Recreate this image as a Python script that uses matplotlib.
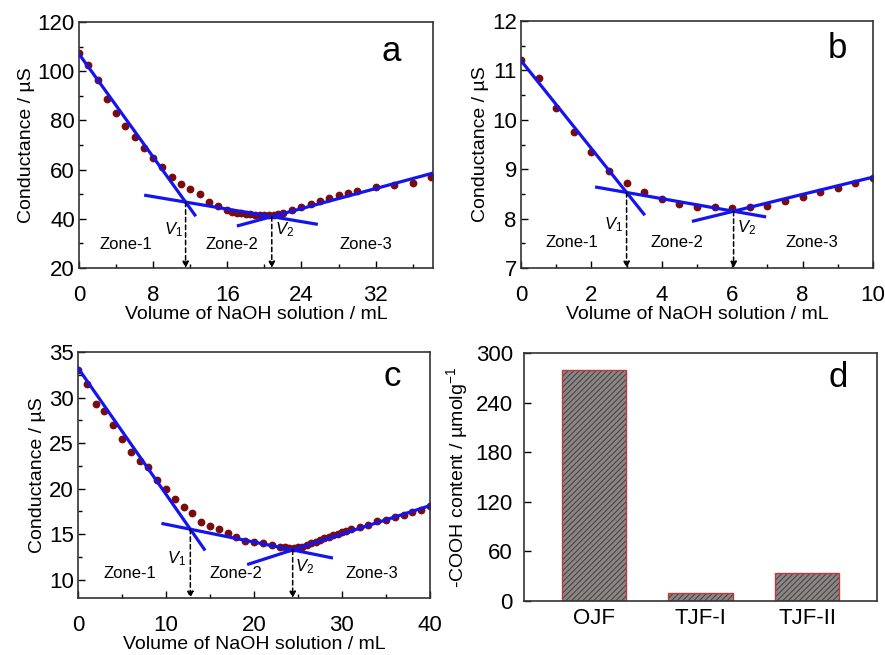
import numpy as np
import matplotlib
matplotlib.use("Agg")
import matplotlib.pyplot as plt

plt.rcParams['font.family'] = ['Liberation Sans', 'DejaVu Sans']
plt.rcParams['mathtext.fontset'] = 'custom'
plt.rcParams['mathtext.rm'] = 'Liberation Sans'
plt.rcParams['mathtext.it'] = 'Liberation Sans:italic'
plt.rcParams['hatch.linewidth'] = 0.8

# panel a data
xa = [0, 1, 2, 3, 4, 5, 6, 7, 8, 9, 10, 11, 12, 13, 14, 15, 16,
      16.5, 17, 17.5, 18, 18.5, 19, 19.5, 20, 20.5, 21, 21.5,
      22, 23, 24, 25, 26, 27, 28, 29, 30, 32, 34, 36, 38]
ya = [107.2, 102.4, 96.4, 88.9, 83.2, 77.7, 73.4, 68.6, 64.6, 61.0, 57.2, 54.2, 52.0, 50.1, 47.0, 45.4, 43.4,
      42.8, 42.5, 42.2, 42.0, 41.8, 41.6, 41.5, 41.4, 41.5, 41.6, 42.0,
      42.3, 43.6, 45.0, 46.1, 47.3, 48.4, 49.7, 50.4, 51.5, 52.8, 53.8, 54.7, 56.9]
va = [11.5, 20.8]
a_y0, a_v1y, a_v2y, a_end = 107.0, 46.8, 40.9, 58.6

# panel b data
xb = [0, 0.5, 1, 1.5, 2, 2.5, 3, 3.5, 4, 4.5, 5, 5.5, 6, 6.5, 7, 7.5, 8, 8.5, 9, 9.5, 10]
yb = [11.22, 10.84, 10.24, 9.75, 9.34, 8.97, 8.73, 8.54, 8.39, 8.30, 8.245, 8.24, 8.21, 8.245,
      8.26, 8.35, 8.43, 8.53, 8.62, 8.72, 8.82]
vb = [3.0, 6.04]
b_y0, b_v1y, b_v2y, b_end = 11.2, 8.53, 8.15, 8.84

# panel c data
xc = [0, 1, 2, 3, 4, 5, 6, 7, 8, 9, 10, 11, 12, 13, 14, 15, 16, 17, 18, 19, 20, 21, 22, 23,
      23.5, 24, 24.5, 25, 25.5, 26, 26.5, 27, 27.5, 28, 28.5, 29, 29.5, 30, 30.5, 31,
      32, 33, 34, 35, 36, 37, 38, 39, 40]
yc = [33.07, 31.5, 29.27, 28.54, 26.97, 25.5, 24.05, 23.07, 22.4, 20.95, 19.93, 18.87, 17.96, 17.3,
      16.39, 15.91, 15.55, 15.1, 14.67, 14.3, 14.2, 14.09, 13.83, 13.65,
      13.55, 13.5, 13.5, 13.55, 13.65, 13.8, 14.0, 14.2, 14.4, 14.6, 14.75, 14.9, 15.05, 15.2, 15.4, 15.6,
      15.8, 16.0, 16.4, 16.6, 16.9, 17.1, 17.4, 17.7, 18.1]
vc = [12.77, 24.4]
c_y0, c_v1y, c_v2y, c_end = 33.25, 15.55, 13.28, 18.14

# panel d data
samples = ['OJF', 'TJF-I', 'TJF-II']
cooh = [279, 10.1, 33.5]

fig = plt.figure(figsize=(8.85, 6.55), dpi=100)
axa = fig.add_axes([0.0893, 0.5908, 0.400, 0.3756])
axb = fig.add_axes([0.5887, 0.5908, 0.3977, 0.3770])
axc = fig.add_axes([0.0881, 0.0870, 0.3977, 0.3756])
axd = fig.add_axes([0.5920, 0.0824, 0.3990, 0.3786])

blue = '#1414f0'
dotc = '#7a0c0c'


def titration(ax, x, y, v, y0, v1y, v2y, yend, l2, l3, xlim, ylim):
    ax.plot(x, y, 'o', color=dotc, ms=4.6, zorder=2)
    s1 = (v1y - y0) / v[0]
    s2 = (v2y - v1y) / (v[1] - v[0])
    s3 = (yend - v2y) / (xlim[1] - v[1])
    x1 = np.array([0, l2[2]])
    ax.plot(x1, y0 + s1 * x1, color=blue, lw=2.3, zorder=3)
    x2 = np.array([l2[0], l2[1]])
    ax.plot(x2, v1y + s2 * (x2 - v[0]), color=blue, lw=2.3, zorder=3)
    x3 = np.array([l3, xlim[1]])
    ax.plot(x3, v2y + s3 * (x3 - v[1]), color=blue, lw=2.3, zorder=3)
    for vx, vy in zip(v, [v1y, v2y]):
        ax.annotate('', xy=(vx, ylim[0]), xytext=(vx, vy),
                    arrowprops=dict(arrowstyle='-|>', ls=(0, (3, 2)), color='black',
                                    lw=1.1, mutation_scale=9, shrinkA=0, shrinkB=0))
    ax.set_xlim(xlim)
    ax.set_ylim(ylim)
    ax.set_xlabel('Volume of NaOH solution / mL', fontsize=14, labelpad=0)
    ax.set_ylabel('Conductance / µS', fontsize=14, labelpad=2)


def style(ax):
    ax.tick_params(direction='in', labelsize=16, length=5, width=1)
    ax.tick_params(axis='x', pad=12)
    ax.tick_params(axis='y', pad=3)
    ax.tick_params(which='minor', direction='in', length=3, width=1)
    for s in ax.spines.values():
        s.set_color('#333333')
        s.set_linewidth(1.2)


# panel a
titration(axa, xa, ya, va, a_y0, a_v1y, a_v2y, a_end, (7.2, 25.6, 12.5), 17.2, (0, 38.2), (20, 120))
axa.set_xticks([0, 8, 16, 24, 32])
axa.set_xticks(np.arange(4, 38, 8), minor=True)
axa.set_yticks(np.arange(20, 121, 20))
axa.set_yticks(np.arange(30, 120, 20), minor=True)
axa.text(10.2, 35.5, r'$V_1$', fontsize=12, ha='center', va='center')
axa.text(22.2, 35.5, r'$V_2$', fontsize=12, ha='center', va='center')
for zx, zt in zip([5.1, 16.5, 31.0], ['Zone-1', 'Zone-2', 'Zone-3']):
    axa.text(zx, 29.5, zt, fontsize=12, ha='center', va='center')
axa.text(33.7, 108, 'a', fontsize=25, ha='center', va='center')
style(axa)

# panel b
titration(axb, xb, yb, vb, b_y0, b_v1y, b_v2y, b_end, (2.15, 6.92, 3.49), 4.9, (0, 10), (7, 12))
axb.set_xticks(np.arange(0, 11, 2))
axb.set_xticks(np.arange(1, 10, 2), minor=True)
axb.set_yticks(np.arange(7, 13, 1))
axb.set_yticks(np.arange(7.5, 12, 1), minor=True)
axb.text(2.63, 7.875, r'$V_1$', fontsize=12, ha='center', va='center')
axb.text(6.42, 7.81, r'$V_2$', fontsize=12, ha='center', va='center')
for zx, zt in zip([1.44, 4.43, 8.27], ['Zone-1', 'Zone-2', 'Zone-3']):
    axb.text(zx, 7.52, zt, fontsize=12, ha='center', va='center')
axb.text(8.98, 11.44, 'b', fontsize=25, ha='center', va='center')
style(axb)

# panel c
titration(axc, xc, yc, vc, c_y0, c_v1y, c_v2y, c_end, (9.66, 28.8, 14.35), 19.4, (0, 40), (8, 35))
axc.set_xticks(np.arange(0, 41, 10))
axc.set_xticks(np.arange(5, 40, 10), minor=True)
axc.set_yticks(np.arange(10, 36, 5))
axc.set_yticks(np.arange(12.5, 35, 5), minor=True)
axc.text(11.25, 12.37, r'$V_1$', fontsize=12, ha='center', va='center')
axc.text(25.7, 11.46, r'$V_2$', fontsize=12, ha='center', va='center')
for zx, zt in zip([5.95, 17.9, 33.4], ['Zone-1', 'Zone-2', 'Zone-3']):
    axc.text(zx, 10.73, zt, fontsize=12, ha='center', va='center')
axc.text(35.7, 32.3, 'c', fontsize=25, ha='center', va='center')
style(axc)

# panel d: grey fill with dark hatch, red outline
pos = np.arange(len(samples))
axd.bar(pos, cooh, width=0.6, color='#8c8787', edgecolor='#4a4444', linewidth=0, hatch='//////')
axd.bar(pos, cooh, width=0.6, fill=False, edgecolor='#c0393b', linewidth=1.0)
axd.set_xticks(pos)
axd.set_xticklabels(samples)
axd.set_xlim(-0.653, 2.653)
axd.set_ylim(0, 300)
axd.set_yticks(np.arange(0, 301, 60))
axd.set_ylabel(r'-COOH content / µmolg$^{-1}$', fontsize=14, labelpad=4)
axd.text(2.29, 270, 'd', fontsize=25, ha='center', va='center')
style(axd)
axd.tick_params(axis='x', length=0, pad=5)
axd.tick_params(axis='y', pad=8)

fig.savefig('out.png', dpi=100)
